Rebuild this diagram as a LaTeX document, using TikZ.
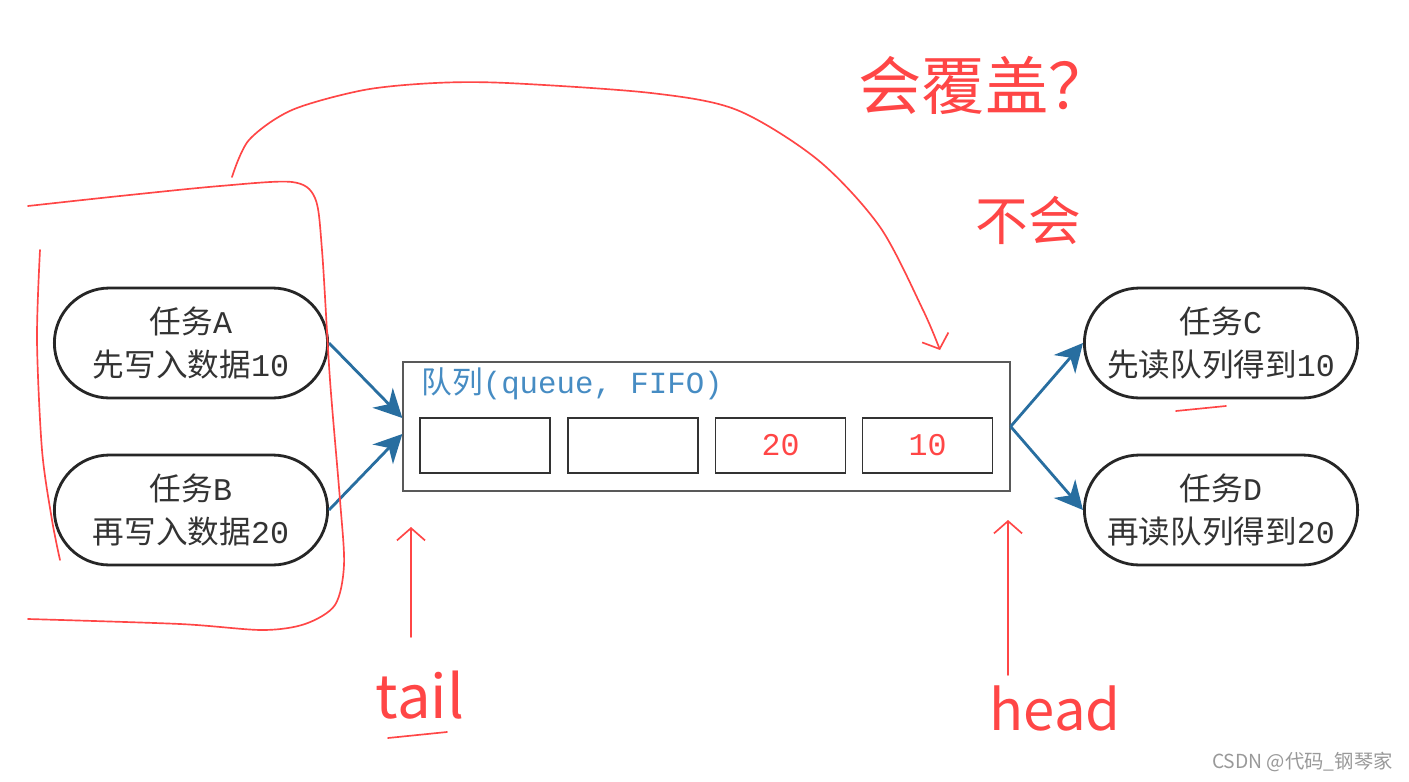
\documentclass[tikz,border=0pt]{standalone}
\usepackage{fontspec}
\setmonofont{Liberation Mono}
\newfontfamily\cjkfont{Noto Sans CJK SC}
\newcommand*{\zh}[1]{{\cjkfont #1}}
\usetikzlibrary{arrows.meta,shapes.misc}

\definecolor{flowblue}{RGB}{40,110,160}
\definecolor{labelblue}{RGB}{70,140,195}
\definecolor{penred}{RGB}{255,70,70}

\begin{document}
\begin{tikzpicture}
[
	x=0.02cm, y=-0.02cm,
	task/.style={rounded rectangle,draw=black!85,line width=1.6pt,minimum width=5.7cm,minimum height=2.2cm,
		align=center,text=black!80,font=\ttfamily\fontsize{18}{24}\selectfont},
	cell/.style={rectangle,draw=black!80,line width=1pt,minimum width=2.6cm,minimum height=1.1cm,
		text=penred,font=\ttfamily\fontsize{18}{20}\selectfont},
	flow/.style={-{Stealth[length=16pt,width=16pt,inset=5pt]},line width=1.6pt,draw=flowblue},
	pen/.style={draw=penred,line width=0.95pt,line cap=round,line join=round},
	barb/.style={-{Straight Barb[length=7pt,width=16pt]}},
	hand/.style={text=penred,inner sep=0pt,font=\cjkfont\fontsize{#1}{#1}\selectfont}
]
	\useasboundingbox[fill=white] (0,0) rectangle (1409,781);

	% tasks
	\node[task] (taskA) at (191,343) {\zh{任务}A\\\zh{先写入数据}10};
	\node[task] (taskB) at (191,510) {\zh{任务}B\\\zh{再写入数据}20};
	\node[task] (taskC) at (1221,343) {\zh{任务}C\\\zh{先读队列得到}10};
	\node[task] (taskD) at (1221,510) {\zh{任务}D\\\zh{再读队列得到}20};

	% queue
	\node[draw=black!65,line width=0.8pt,minimum width=12.14cm,minimum height=2.58cm] (queue) at (706.5,426.5) {};
	\node[anchor=west,inner sep=0pt,text=labelblue,font=\ttfamily\fontsize{17.5}{20}\selectfont] (qlabel) at (421,384) {\zh{队列}(queue, FIFO)};
	\foreach \cx/\val [count=\i] in {485/{},633/{},780.5/20,927.5/10}
		\node[cell] (cell\i) at (\cx,445.5) {\val};

	\draw[flow] (taskA.east) -- ([yshift=0.17cm]queue.west);
	\draw[flow] (taskB.east) -- ([yshift=-0.15cm]queue.west);
	\draw[flow] (queue.east) -- (taskC.west);
	\draw[flow] (queue.east) -- (taskD.west);

	% red notes
	\draw[pen] plot[smooth] coordinates {(28,206) (120,196) (220,186) (292,182) (315,198) (322,250) (330,380) (340,500) (344,565) (335,605) (305,624) (262,630) (180,624) (28,619)};
	\draw[pen] plot[smooth] coordinates {(40,250) (37,340) (42,450) (52,520) (60,560)};
	\draw[pen,barb] plot[smooth] coordinates {(232,177) (249,140) (292,110) (364,90) (435,83) (507,83) (651,93) (737,110) (818,160) (880,227) (923,310) (940,350)};

	\node[hand=36] (ask) at (985,85) {会覆盖？};
	\node[hand=30] (nope) at (1028,220) {不会};

	\coordinate (tailtip) at (411,527);
	\coordinate (tailfoot) at (411,637);
	\draw[pen,barb] (tailfoot) -- (tailtip);
	\node[hand=34] (tail) at (420,695) {tail};
	\draw[pen] (388,738) -- (447,732);

	\coordinate (headtip) at (1008,520);
	\coordinate (headfoot) at (1008,675);
	\draw[pen,barb] (headfoot) -- (headtip);
	\node[hand=32] (head) at (1055,708) {head};

	\draw[pen] (1176,411) -- (1226,406);

	\node[anchor=east,inner sep=0pt,text=black!40,font=\cjkfont\fontsize{11}{13}\selectfont] (mark) at (1393,762) {CSDN @代码\_钢琴家};
\end{tikzpicture}
\end{document}
